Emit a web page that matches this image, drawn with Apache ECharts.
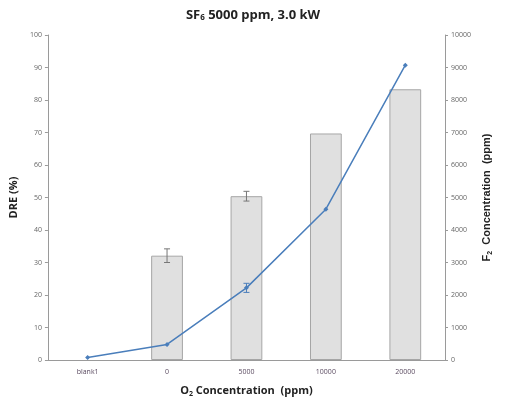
<!DOCTYPE html>
<html><head><meta charset="utf-8">
<script src="https://cdn.jsdelivr.net/npm/echarts@6/dist/echarts.min.js"></script>
<style>html,body{margin:0;padding:0;background:#fff}#c{width:506px;height:402px}</style>
</head><body><div id="c"></div>
<script>
const categories = ['blank1', '0', '5000', '10000', '20000'];
const dreValues = [null, 32.1, 50.4, 69.7, 83.3];
const dreErrors = [0, 2.1, 1.5, 0, 0];
const f2Values = [80, 480, 2220, 4640, 9070];
const f2Errors = [0, 0, 140, 0, 0];

const chart = echarts.init(document.getElementById('c'));
const font = 'Open Sans, Liberation Sans, sans-serif';
function errSeries(vals, errs, axisIdx, color) {
  return {
    type: 'custom', yAxisIndex: axisIdx, z: 10,
    data: categories.map((c, i) => [i, vals[i], errs[i]]),
    renderItem: function (params, api) {
      const v = api.value(1), e = api.value(2);
      if (!e || v == null || isNaN(v)) return;
      const x = api.value(0);
      const top = api.coord([x, v + e]);
      const bot = api.coord([x, v - e]);
      const w = 3;
      const st = { stroke: color, lineWidth: 1 };
      return { type: 'group', children: [
        { type: 'line', shape: { x1: top[0], y1: top[1], x2: bot[0], y2: bot[1] }, style: st },
        { type: 'line', shape: { x1: top[0] - w, y1: top[1], x2: top[0] + w, y2: top[1] }, style: st },
        { type: 'line', shape: { x1: bot[0] - w, y1: bot[1], x2: bot[0] + w, y2: bot[1] }, style: st }
      ]};
    }
  };
}
chart.setOption({
  animation: false,
  title: {
    text: '{a|SF}{s|6}{a| 5000 ppm, 3.0 kW}', left: 'center', top: 3,
    textStyle: { rich: {
      a: { fontFamily: font, fontSize: 13, fontWeight: 'bold', color: '#222' },
      s: { fontFamily: font, fontSize: 8, fontWeight: 'bold', color: '#222', verticalAlign: 'bottom', padding: [6, 0, 0, 0] }
    } }
  },
  grid: { left: 45, right: 61, top: 35, bottom: 42, containLabel: false },
  xAxis: {
    type: 'category', data: categories,
    name: '{a|O}{s|2}{a| Concentration  (ppm)}', nameLocation: 'middle', nameGap: 24,
    nameTextStyle: { rich: {
      a: { fontFamily: font, fontSize: 11, fontWeight: 'bold', color: '#222' },
      s: { fontFamily: font, fontSize: 7, fontWeight: 'bold', color: '#222', padding: [6, 0, 0, 0] }
    } },
    axisLine: { lineStyle: { color: '#9a9a9a' } },
    axisTick: { show: false },
    axisLabel: { fontFamily: font, fontSize: 7, color: '#5a4a60', margin: 8 }
  },
  yAxis: [{
    type: 'value', min: 0, max: 100, interval: 10,
    name: 'DRE (%)', nameLocation: 'middle', nameGap: 22, nameRotate: 90,
    nameTextStyle: { fontFamily: font, fontSize: 11, fontWeight: 'bold', color: '#222' },
    axisLine: { show: true, lineStyle: { color: '#9a9a9a' } },
    axisTick: { show: true, length: 3, lineStyle: { color: '#9a9a9a' } },
    axisLabel: { fontFamily: font, fontSize: 7, color: '#666', margin: 6 },
    splitLine: { show: false }
  }, {
    type: 'value', min: 0, max: 10000, interval: 1000,
    name: '{a|F}{s|2}{a|  Concentration  (ppm)}', nameLocation: 'middle', nameGap: 34, nameRotate: 90,
    nameTextStyle: { rich: {
      a: { fontFamily: 'Liberation Sans, Arial, sans-serif', fontSize: 11, fontWeight: 'bold', color: '#222' },
      s: { fontFamily: 'Liberation Sans, Arial, sans-serif', fontSize: 7, fontWeight: 'bold', color: '#222', padding: [6, 0, 0, 0] }
    } },
    axisLine: { show: true, lineStyle: { color: '#9a9a9a' } },
    axisTick: { show: true, length: 3, lineStyle: { color: '#9a9a9a' } },
    axisLabel: { fontFamily: font, fontSize: 7, color: '#666', margin: 6, formatter: v => String(v) },
    splitLine: { show: false }
  }],
  series: [{
    type: 'bar', yAxisIndex: 0, data: dreValues, barWidth: '40%',
    itemStyle: { color: '#e0e0e0', borderColor: '#a6a6a6', borderWidth: 1 }
  }, {
    type: 'line', yAxisIndex: 1, data: f2Values, z: 5,
    symbol: 'diamond', symbolSize: 5,
    lineStyle: { color: '#4a7ebb', width: 1.5 },
    itemStyle: { color: '#4a7ebb' }
  },
  errSeries(dreValues, dreErrors, 0, '#777'),
  errSeries(f2Values, f2Errors, 1, '#4a7ebb')
  ]
});
</script></body></html>
